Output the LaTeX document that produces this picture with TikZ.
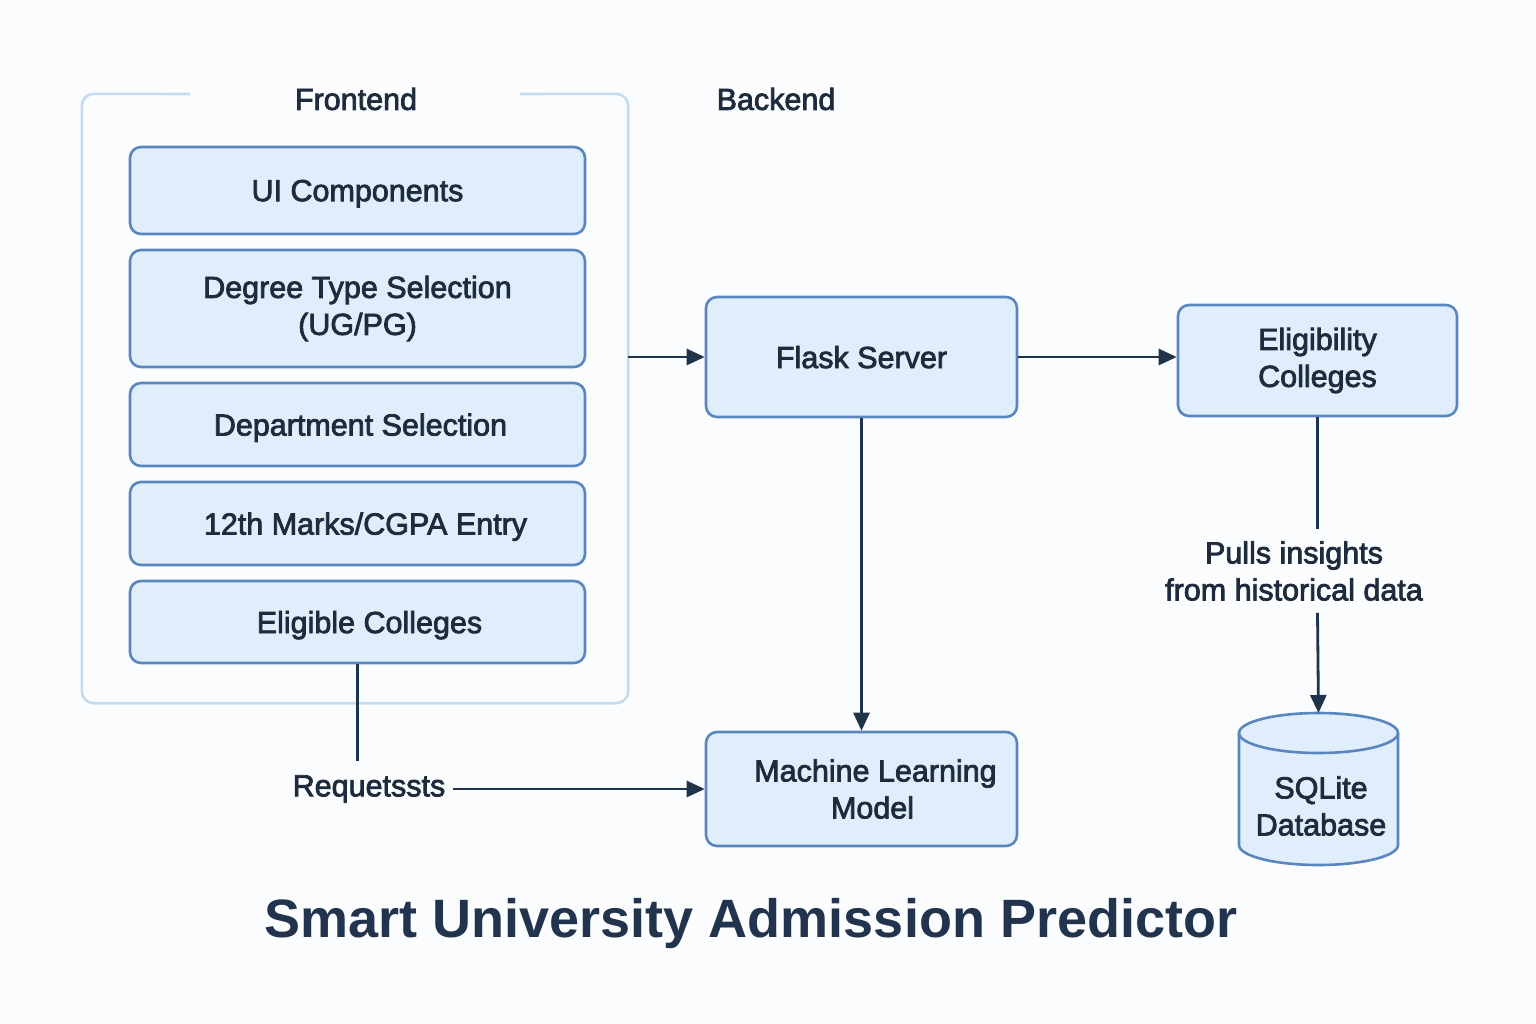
\documentclass[tikz,border=0pt]{standalone}
\usepackage{fontspec}
\setmainfont{Liberation Sans}
\newfontfamily\medfont{Liberation Sans}[FakeBold=2.5]
\usetikzlibrary{arrows.meta,calc}
\definecolor{bg}{HTML}{FAFCFE}
\definecolor{boxfill}{HTML}{DFEEFA}
\definecolor{boxline}{HTML}{5A86BF}
\definecolor{frameline}{HTML}{C3DCF2}
\definecolor{txt}{HTML}{1E2B3C}
\definecolor{arr}{HTML}{1F3349}
\definecolor{titlec}{HTML}{22344D}
\tikzset{
  box/.style={draw=boxline, fill=boxfill, line width=2.6pt, rounded corners=11pt,
    inner sep=0pt, align=center, text=txt, font=\medfont\fontsize{30.5}{37}\selectfont},
  lbl/.style={text=txt, align=center, font=\medfont\fontsize{30.5}{37}\selectfont, inner sep=0pt},
  conn/.style={draw=arr, line width=2.8pt},
  arrow/.style={conn, -{Triangle[length=18pt,width=16pt]}},
  frame/.style={draw=frameline, line width=2.6pt, rounded corners=12pt}
}
\begin{document}
\begin{tikzpicture}[x=1pt,y=-1pt]
\useasboundingbox (0,0) rectangle (1536,1024);
\fill[bg] (0,0) rectangle (1536,1024);

% frontend frame
\node[minimum width=546pt, minimum height=609pt, inner sep=0pt] (fe) at (355,398.5) {};
\draw[frame] (190,94) -- (fe.north west) -- (fe.south west) -- (fe.south east) -- (fe.north east) -- (520,94);
\node[lbl] (felbl) at (356,99) {Frontend};
\node[lbl] (belbl) at (776,99) {Backend};

% frontend boxes
\node[box, minimum width=455pt, minimum height=87pt, text depth=0pt] (ui) at (357.5,190.5) {UI Components};
\node[box, minimum width=455pt, minimum height=117pt] (deg) at (357.5,308.5) {Degree Type Selection\\(UG/PG)};
\node[box, minimum width=455pt, minimum height=83pt, text depth=0pt] (dep) at (357.5,424.5) {\hspace*{6pt}Department Selection};
\node[box, minimum width=455pt, minimum height=83pt, text depth=0pt] (mk) at (357.5,523.5) {\hspace*{16pt}12th Marks/CGPA Entry};
\node[box, minimum width=455pt, minimum height=82pt, text depth=0pt] (ec) at (357.5,622) {\hspace*{24pt}Eligible Colleges};

% backend
\node[box, minimum width=311pt, minimum height=120pt, text depth=0pt] (flask) at (861.5,357) {Flask Server};
\node[box, minimum width=279pt, minimum height=111pt] (elig) at (1317.5,360.5) {Eligibility\\Colleges};
\node[box, minimum width=311pt, minimum height=114pt] (ml) at (861.5,789) {\hspace*{28pt}Machine Learning\\\hspace*{22pt}Model};

% database cylinder
\fill[boxfill] (1239,733) -- (1239,845) arc (180:0:79.5 and 20) -- (1398,733) arc (0:-180:79.5 and 20) -- cycle;
\draw[boxline, line width=2.6pt] (1239,733) -- (1239,845) arc (180:0:79.5 and 20) -- (1398,733);
\draw[boxline, line width=2.6pt] (1318.5,733) ellipse (79.5 and 20);
\coordinate (dbtop) at (1318.5,713);
\node[lbl] (db) at (1321,806) {SQLite\\Database};

% labels
\node[lbl, inner sep=12pt] (pulls) at (1294,571) {Pulls insights\\from historical data};
\node[lbl, inner xsep=8pt, inner ysep=14pt] (req) at (369,789) {Requetssts};

% connectors
\draw[arrow] (fe.east |- flask.west) -- (flask.west);
\draw[arrow] (flask.east) -- (flask.east -| elig.west);
\draw[arrow] (flask.south) -- (ml.north);
\draw[conn] (elig.south) -- (elig.south |- pulls.north);
\draw[arrow] (elig.south |- pulls.south) -- (dbtop);
\draw[conn] (ec.south) -- (ec.south |- req.north);
\draw[arrow] (req.east) -- (req.east -| ml.west);

% title
\node[text=titlec, font=\fontsize{54}{60}\selectfont\bfseries, inner sep=0pt] (title) at (751,924) {Smart University Admission Predictor};
\end{tikzpicture}
\end{document}
